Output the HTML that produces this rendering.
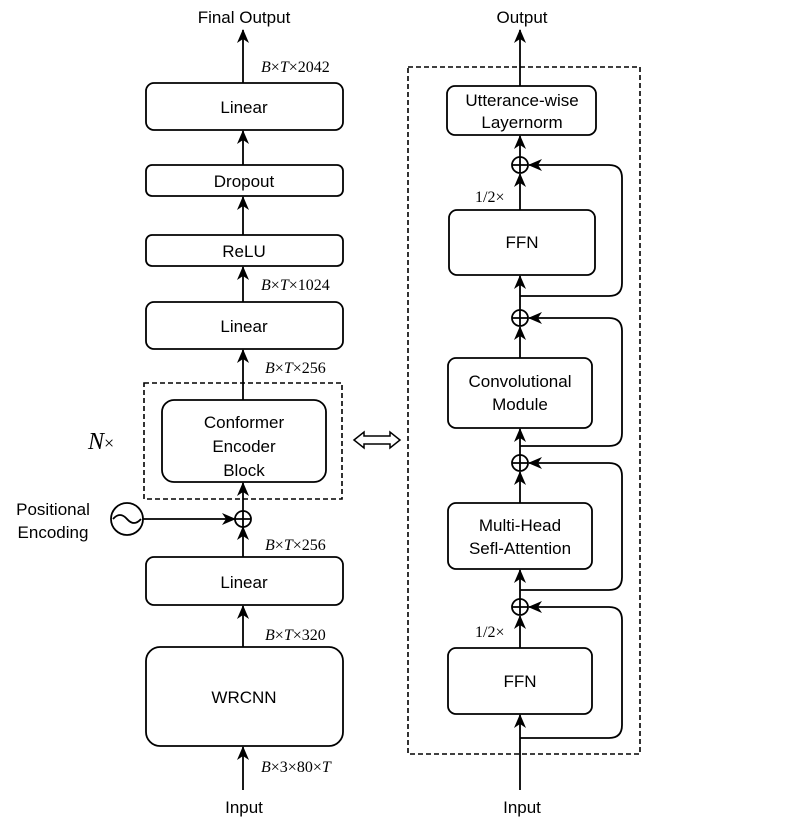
<!DOCTYPE html>
<html><head><style>body{margin:0;background:#fff}</style></head><body>
<svg width="788" height="831" viewBox="0 0 788 831" xmlns="http://www.w3.org/2000/svg" font-family="Liberation Sans, sans-serif">
<defs><marker id="a" markerWidth="14" markerHeight="12" refX="13" refY="6" orient="auto" markerUnits="userSpaceOnUse"><path d="M0,0 L14,6 L0,12 L4,6 Z" fill="#000"/></marker></defs>
<g fill="none" stroke="#000" stroke-width="1.8">
<rect x="146" y="83" width="197" height="47" rx="8"/>
<rect x="146" y="165" width="197" height="31" rx="6"/>
<rect x="146" y="235" width="197" height="31" rx="6"/>
<rect x="146" y="302" width="197" height="47" rx="8"/>
<rect x="144" y="383" width="198" height="116" stroke-dasharray="5,3" stroke-width="1.6"/>
<rect x="162" y="400" width="164" height="82" rx="12"/>
<rect x="146" y="557" width="197" height="48" rx="8"/>
<rect x="146" y="647" width="197" height="99" rx="14"/>
<circle cx="243" cy="519" r="8"/><path d="M235,519H251M243,511V527"/>
<circle cx="127" cy="519" r="16"/><path d="M113,519 q7,-8 14,0 t14,0"/>
<path d="M243,83V30" marker-end="url(#a)"/>
<path d="M243,165V131" marker-end="url(#a)"/>
<path d="M243,235V197" marker-end="url(#a)"/>
<path d="M243,302V267" marker-end="url(#a)"/>
<path d="M243,400V350" marker-end="url(#a)"/>
<path d="M243,511V483" marker-end="url(#a)"/>
<path d="M243,557V527" marker-end="url(#a)"/>
<path d="M243,647V606" marker-end="url(#a)"/>
<path d="M243,790V747" marker-end="url(#a)"/>
<path d="M143,519H235" marker-end="url(#a)"/>
<path d="M354,440l10,-8v4h26v-4l10,8l-10,8v-4h-26v4z" stroke-width="1.5"/>
<rect x="408" y="67" width="232" height="687" stroke-dasharray="5,3" stroke-width="1.6"/>
<rect x="447" y="86" width="149" height="49" rx="8"/>
<rect x="449" y="210" width="146" height="65" rx="8"/>
<rect x="448" y="358" width="144" height="70" rx="8"/>
<rect x="448" y="503" width="144" height="66" rx="8"/>
<rect x="448" y="648" width="144" height="66" rx="8"/>
<circle cx="520" cy="165" r="8"/><path d="M512,165H528M520,157V173"/>
<circle cx="520" cy="318" r="8"/><path d="M512,318H528M520,310V326"/>
<circle cx="520" cy="463" r="8"/><path d="M512,463H528M520,455V471"/>
<circle cx="520" cy="607" r="8"/><path d="M512,607H528M520,599V615"/>
<path d="M520,86V30" marker-end="url(#a)"/>
<path d="M520,157V136" marker-end="url(#a)"/>
<path d="M520,210V174" marker-end="url(#a)"/>
<path d="M520,310V276" marker-end="url(#a)"/>
<path d="M520,358V327" marker-end="url(#a)"/>
<path d="M520,455V429" marker-end="url(#a)"/>
<path d="M520,503V472" marker-end="url(#a)"/>
<path d="M520,599V570" marker-end="url(#a)"/>
<path d="M520,648V616" marker-end="url(#a)"/>
<path d="M520,790V715" marker-end="url(#a)"/>
<path d="M520,296H609q13,0 13,-13V178q0,-13 -13,-13H529" marker-end="url(#a)"/>
<path d="M520,446H609q13,0 13,-13V331q0,-13 -13,-13H529" marker-end="url(#a)"/>
<path d="M520,590H609q13,0 13,-13V476q0,-13 -13,-13H529" marker-end="url(#a)"/>
<path d="M520,738H609q13,0 13,-13V620q0,-13 -13,-13H529" marker-end="url(#a)"/>
</g>
<g font-size="17" text-anchor="middle" fill="#000">
<text x="244" y="23">Final Output</text>
<text x="244" y="113">Linear</text>
<text x="244" y="187">Dropout</text>
<text x="244" y="257">ReLU</text>
<text x="244" y="332">Linear</text>
<text x="244" y="428">Conformer</text>
<text x="244" y="452">Encoder</text>
<text x="244" y="476">Block</text>
<text x="244" y="588">Linear</text>
<text x="244" y="703">WRCNN</text>
<text x="244" y="813">Input</text>
<text x="53" y="515">Positional</text>
<text x="53" y="538">Encoding</text>
<text x="522" y="23">Output</text>
<text x="522" y="106">Utterance-wise</text>
<text x="522" y="128">Layernorm</text>
<text x="522" y="248">FFN</text>
<text x="520" y="387">Convolutional</text>
<text x="520" y="410">Module</text>
<text x="520" y="531">Multi-Head</text>
<text x="520" y="554">Sefl-Attention</text>
<text x="520" y="687">FFN</text>
<text x="522" y="813">Input</text>
</g>
<g font-family="Liberation Serif, serif" font-size="16" fill="#000">
<text x="261" y="72"><tspan font-style="italic">B</tspan>×<tspan font-style="italic">T</tspan>×2042</text>
<text x="261" y="290"><tspan font-style="italic">B</tspan>×<tspan font-style="italic">T</tspan>×1024</text>
<text x="265" y="373"><tspan font-style="italic">B</tspan>×<tspan font-style="italic">T</tspan>×256</text>
<text x="265" y="550"><tspan font-style="italic">B</tspan>×<tspan font-style="italic">T</tspan>×256</text>
<text x="265" y="640"><tspan font-style="italic">B</tspan>×<tspan font-style="italic">T</tspan>×320</text>
<text x="261" y="772"><tspan font-style="italic">B</tspan>×3×80×<tspan font-style="italic">T</tspan></text>
<text x="475" y="202">1/2×</text>
<text x="475" y="637">1/2×</text>
<text x="88" y="449" font-size="24"><tspan font-style="italic">N</tspan><tspan font-size="18">×</tspan></text>
</g>
</svg>
</body></html>
